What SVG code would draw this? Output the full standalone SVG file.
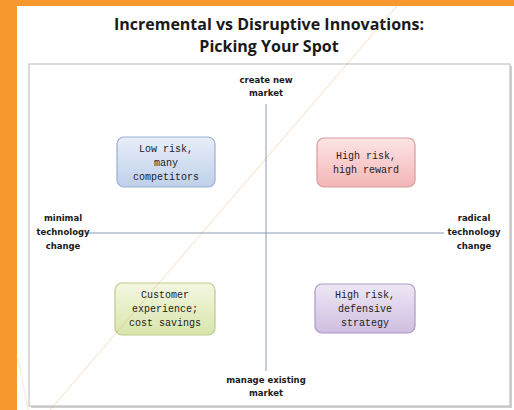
<svg xmlns="http://www.w3.org/2000/svg" width="514" height="410" viewBox="0 0 514 410">
  <defs>
    <linearGradient id="gBlue" x1="0" y1="0" x2="0" y2="1">
      <stop offset="0" stop-color="#e8eef9"/>
      <stop offset="1" stop-color="#bfd0ea"/>
    </linearGradient>
    <linearGradient id="gPink" x1="0" y1="0" x2="0" y2="1">
      <stop offset="0" stop-color="#fde4e4"/>
      <stop offset="1" stop-color="#f4b6b8"/>
    </linearGradient>
    <linearGradient id="gGreen" x1="0" y1="0" x2="0" y2="1">
      <stop offset="0" stop-color="#f3f7e0"/>
      <stop offset="1" stop-color="#d8e5ac"/>
    </linearGradient>
    <linearGradient id="gPurple" x1="0" y1="0" x2="0" y2="1">
      <stop offset="0" stop-color="#eee7f4"/>
      <stop offset="1" stop-color="#cfbee2"/>
    </linearGradient>
  </defs>
  <style>
    .title { font-family: "Open Sans", "Liberation Sans", sans-serif; font-weight: bold; font-size: 16px; fill: #1a1a1a; text-anchor: middle; }
    .axis { font-family: "DejaVu Sans", "Lato", sans-serif; font-weight: bold; font-size: 8.5px; fill: #1a1a1a; text-anchor: middle; }
    .box text { font-family: "Liberation Mono", "DejaVu Sans Mono", monospace; font-size: 10px; fill: #222; text-anchor: middle; }
    .box rect { stroke-width: 1.2; }
    .axisline { stroke: #8a9bb5; stroke-width: 1; fill: none; }
  </style>

  <!-- page background -->
  <rect x="0" y="0" width="514" height="410" fill="#f7982f"/>
  <rect x="17" y="6" width="497" height="404" fill="#ffffff"/>

  <!-- title -->
  <text class="title" x="269" y="30">Incremental vs Disruptive Innovations:</text>
  <text class="title" x="269" y="52">Picking Your Spot</text>

  <!-- chart frame -->
  <rect x="31" y="66" width="481" height="342" fill="#d0d0d0"/>
  <rect x="29" y="64" width="481" height="342" fill="#ffffff" stroke="#c4c4c4" stroke-width="1.2"/>

  <!-- connectors: quadrant axes -->
  <g id="axes">
    <line class="axisline" x1="266" y1="104" x2="266" y2="371"/>
    <line class="axisline" x1="88" y1="233" x2="444" y2="233"/>
  </g>

  <!-- axis labels -->
  <g id="label-top">
    <text class="axis" x="266" y="83">create new</text>
    <text class="axis" x="266" y="96">market</text>
  </g>
  <g id="label-bottom">
    <text class="axis" x="266" y="383">manage existing</text>
    <text class="axis" x="266" y="396">market</text>
  </g>
  <g id="label-left">
    <text class="axis" x="63" y="221">minimal</text>
    <text class="axis" x="63" y="235">technology</text>
    <text class="axis" x="63" y="249">change</text>
  </g>
  <g id="label-right">
    <text class="axis" x="474" y="221">radical</text>
    <text class="axis" x="474" y="235">technology</text>
    <text class="axis" x="474" y="249">change</text>
  </g>

  <!-- quadrant boxes -->
  <g id="low-risk" class="box">
    <rect x="117" y="137" width="98" height="50" rx="7" fill="url(#gBlue)" stroke="#9aaed0"/>
    <text x="166" y="152">Low risk,</text>
    <text x="166" y="166">many</text>
    <text x="166" y="180">competitors</text>
  </g>
  <g id="high-reward" class="box">
    <rect x="317" y="138" width="98" height="49" rx="7" fill="url(#gPink)" stroke="#d99a9c"/>
    <text x="366" y="159">High risk,</text>
    <text x="366" y="173">high reward</text>
  </g>
  <g id="cost-savings" class="box">
    <rect x="115" y="283" width="100" height="52" rx="7" fill="url(#gGreen)" stroke="#bccb8c"/>
    <text x="165" y="298">Customer</text>
    <text x="165" y="312">experience;</text>
    <text x="165" y="326">cost savings</text>
  </g>
  <g id="defensive" class="box">
    <rect x="315" y="284" width="100" height="49" rx="7" fill="url(#gPurple)" stroke="#ad98c6"/>
    <text x="365" y="298">High risk,</text>
    <text x="365" y="312">defensive</text>
    <text x="365" y="326">strategy</text>
  </g>

  <!-- thin diagonal stroke across the page -->
  <line x1="402" y1="0" x2="50" y2="410" stroke="#f7a04a" stroke-width="0.6" opacity="0.6"/>
  <line x1="18" y1="358" x2="28" y2="410" stroke="#f7b070" stroke-width="0.6" opacity="0.5"/>
</svg>
